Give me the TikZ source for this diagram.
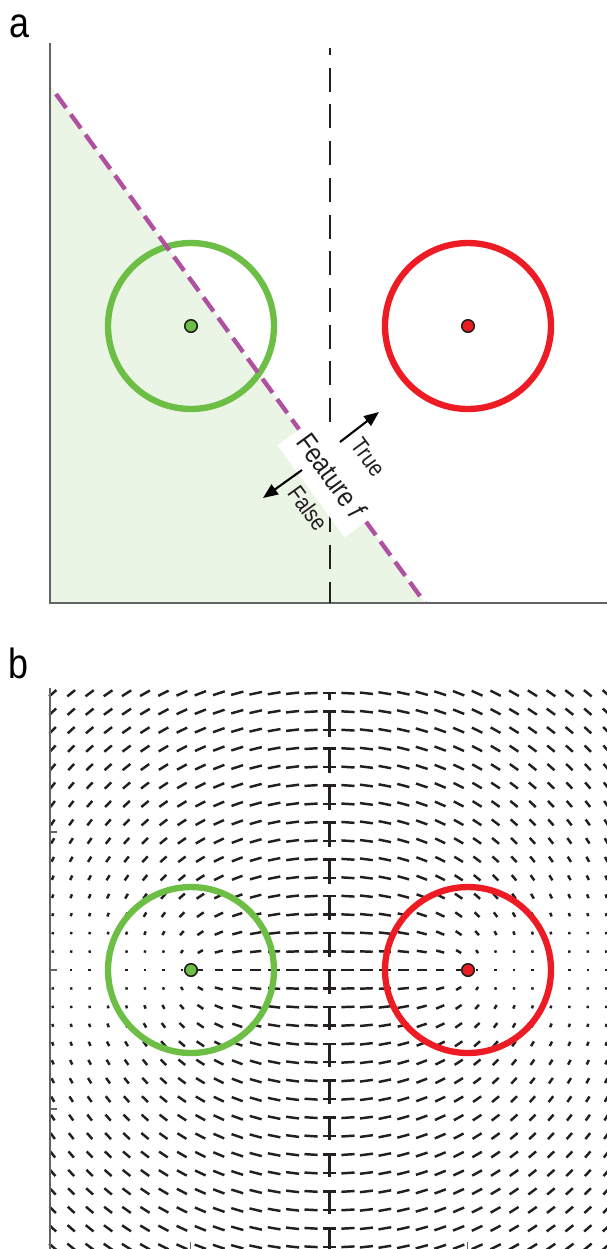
\documentclass[tikz,border=0pt]{standalone}
\usepackage{fontspec}
\setmainfont{Liberation Sans}[FakeStretch=0.85]
\usetikzlibrary{arrows.meta}
\definecolor{ringgreen}{RGB}{108,190,69}
\definecolor{ringred}{RGB}{237,28,36}
\definecolor{fillgreen}{RGB}{235,245,230}
\definecolor{splitpurple}{RGB}{176,80,160}
\definecolor{axisgray}{RGB}{100,100,100}
\definecolor{inkblack}{RGB}{35,31,32}
\tikzset{
  axisline/.style={draw=axisgray, line width=0.9pt},
  midline/.style={draw=inkblack, line width=1.2pt, dash pattern=on 13.66pt off 7.23pt, dash phase=9.67pt},
  ring/.style={circle, draw=#1, line width=3.6pt, minimum size=3.32cm, inner sep=0pt},
  centerdot/.style={circle, fill=#1, draw=inkblack, line width=0.9pt, minimum size=0.25cm, inner sep=0pt},
  splitline/.style={draw=splitpurple, line width=2.5pt, dash pattern=on 9.8pt off 4.5pt},
  labelbox/.style={fill=white, rotate=-53.9, minimum width=2.28cm, minimum height=1.04cm, inner sep=0pt, font=\fontsize{16}{18}\selectfont, text=inkblack},
  sidelabel/.style={rotate=-53.9, font=\fontsize{13.5}{15}\selectfont, text=inkblack, inner sep=0pt},
  sidearrow/.style={draw=black, line width=1.2pt, -{Triangle[length=8.5pt,width=6.8pt]}},
  panellabel/.style={anchor=base, font=\fontsize{24}{28}\selectfont, inner sep=0pt},
  fieldseg/.style={draw=inkblack, line width=1.4pt},
  tickmark/.style={draw=axisgray, line width=0.9pt}
}
\begin{document}
\begin{tikzpicture}[x=0.02cm, y=-0.02cm]
\useasboundingbox (0,0) rectangle (607,1249);

% ---------------- panel a ----------------
\node[panellabel] (la) at (19,37) {a};
\fill[fillgreen] (50,85) -- (425,603) -- (50,603) -- cycle;
\draw[axisline] (50,43) -- (50,603) -- (607,603);
\draw[midline] (330,48) -- (330,603);
\node[ring=ringgreen] (ga) at (191,326) {};
\node[ring=ringred] (ra) at (468,326) {};
\node[centerdot=ringgreen] (gda) at (191,326) {};
\node[centerdot=ringred] (rda) at (468,326) {};
\coordinate (s1) at (56,94);
\coordinate (s2) at (425,603);
\draw[splitline] (s1) -- (s2);
\node[labelbox] (feat) at (332,476) {Feature \textit{f}};
\coordinate (tS) at (340,442);
\coordinate (tE) at (379,412);
\coordinate (fS) at (302,470);
\coordinate (fE) at (263,498);
\draw[sidearrow] (tS) -- (tE);
\draw[sidearrow] (fS) -- (fE);
\node[sidelabel] (tl) at (368,457) {True};
\node[sidelabel] (fl) at (308,508) {False};

% ---------------- panel b ----------------
\node[panellabel] (lb) at (18.5,678) {b};
\foreach \i in {-15,...,15}{
  \foreach \j in {-15,...,15}{
    \pgfmathsetmacro{\ax}{\i+7.5}
    \pgfmathsetmacro{\bx}{\i-7.5}
    \pgfmathsetmacro{\da}{sqrt(\ax*\ax+\j*\j)}
    \pgfmathsetmacro{\db}{sqrt(\bx*\bx+\j*\j)}
    \pgfmathsetmacro{\w}{sqrt(\da*\db)}
    \pgfmathsetmacro{\vx}{\w*(\ax/\da-\bx/\db)}
    \pgfmathsetmacro{\vy}{\w*\j*(1/\da-1/\db)}
    \pgfmathsetmacro{\L}{sqrt(\vx*\vx+\vy*\vy)}
    \pgfmathsetmacro{\h}{max(0.44*\L,1.2)}
    \pgfmathsetmacro{\ang}{atan2(\vy,\vx+0.00001)}
    \pgfmathsetmacro{\px}{329.5+18.45*\i}
    \pgfmathsetmacro{\py}{970+18.45*\j}
    \draw[fieldseg] (\px,\py) ++(\ang:\h) -- ++(\ang+180:2*\h);
  }
}
\draw[axisline] (50,688) -- (50,1249);
\foreach \ty in {832,970,1109}{
  \draw[tickmark] (50,\ty) -- (57,\ty);
}
\foreach \tx in {190.5,467.5}{
  \draw[tickmark] (\tx,1249) -- (\tx,1242);
}
\draw[midline] (329.5,693) -- (329.5,1249);
\node[ring=ringgreen] (gb) at (191,970) {};
\node[ring=ringred] (rb) at (468,970) {};
\node[centerdot=ringgreen] (gdb) at (191,970) {};
\node[centerdot=ringred] (rdb) at (468,970) {};
\end{tikzpicture}
\end{document}
